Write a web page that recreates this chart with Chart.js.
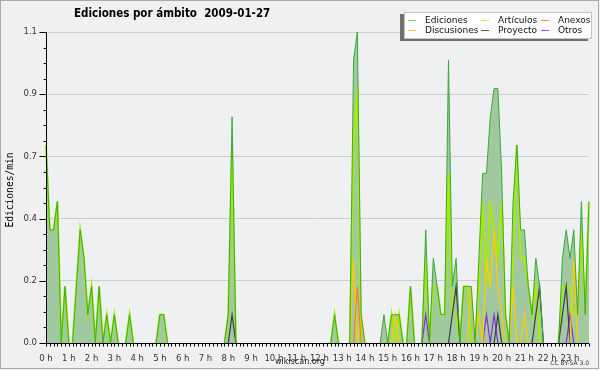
<!DOCTYPE html>
<html>
<head>
<meta charset="utf-8">
<script src="https://cdn.jsdelivr.net/npm/chart.js@4.4.1/dist/chart.umd.min.js"></script>
<style>
  html, body { margin: 0; padding: 0; background: #fff; }
  #wrap { position: relative; width: 600px; height: 370px; background: #f0f0f0; overflow: hidden; font-family: 'DejaVu Sans', sans-serif; }
  #chart { position: absolute; left: 0; top: 0; }
  #frame { position: absolute; left: 0; top: 0; width: 597px; height: 367px; border: 1px solid #a9a9a9; pointer-events: none; }
  #title { position: absolute; left: 74px; top: 6px; font-family: 'DejaVu Sans Condensed', 'DejaVu Sans', sans-serif;
           font-stretch: condensed; font-weight: bold; font-size: 11.5px; color: #000; white-space: pre; }
  #ytitle { position: absolute; left: -50.5px; top: 183px; width: 120px; height: 14px; line-height: 14px; text-align: center;
            font-family: 'DejaVu Sans Mono', monospace; font-size: 9.6px; color: #000; transform: rotate(-90deg); }
  #legend { position: absolute; left: 404px; top: 12px; width: 188px; height: 27px; box-sizing: border-box;
            background: #fdfdfd; border: 1px solid #c4c4c4; box-shadow: -4px 2px 0 #707070; }
  .item { position: absolute; height: 10px; font-size: 9px; line-height: 10px; color: #111; white-space: nowrap; }
  .item i { position: absolute; left: 0; top: 5px; width: 8px; height: 1px; }
  .item span { position: absolute; left: 17px; top: 0; }
  #site { position: absolute; left: 250px; width: 100px; top: 357px; text-align: center; font-size: 8px; color: #222; }
  #lic { position: absolute; right: 11px; top: 359px; font-size: 6px; color: #333; }
</style>
</head>
<body>
<div id="wrap">
  <canvas id="chart" width="600" height="370"></canvas>
  <div id="title">Ediciones por ámbito  2009-01-27</div>
  <div id="ytitle">Ediciones/min</div>
  <div id="legend"></div>
  <div id="site">wikiscan.org</div>
  <div id="lic">CC BY-SA 3.0</div>
  <div id="frame"></div>
</div>
<script>
// 10-minute buckets, 00:00 .. 23:50 (one row = 2 hours)
const ediciones = [
  0.7, 0.4, 0.4, 0.5, 0, 0.2, 0, 0, 0.2, 0.4, 0.3, 0.1,
  0.2, 0, 0.2, 0, 0.1, 0, 0.1, 0, 0, 0, 0.1, 0,
  0, 0, 0, 0, 0, 0, 0.1, 0.1, 0, 0, 0, 0,
  0, 0, 0, 0, 0, 0, 0, 0, 0, 0, 0, 0,
  0.1, 0.8, 0, 0, 0, 0, 0, 0, 0, 0, 0, 0,
  0, 0, 0, 0, 0, 0, 0, 0, 0, 0, 0, 0,
  0, 0, 0, 0, 0.1, 0, 0, 0, 0, 1.0, 1.1, 0.1,
  0, 0, 0, 0, 0, 0.1, 0, 0.1, 0.1, 0.1, 0, 0,
  0.2, 0, 0, 0, 0.4, 0, 0.3, 0.2, 0.1, 0.1, 1.0, 0.2,
  0.3, 0, 0.2, 0.2, 0.2, 0, 0.3, 0.6, 0.6, 0.8, 0.9, 0.9,
  0.6, 0.1, 0, 0.5, 0.7, 0.4, 0.4, 0.2, 0.1, 0.3, 0.2, 0,
  0, 0, 0, 0, 0.3, 0.4, 0.3, 0.4, 0.1, 0.5, 0.1, 0.5,
];
const articulos = [
  0.7, 0.4, 0.4, 0.5, 0, 0.2, 0, 0, 0.2, 0.4, 0.3, 0.1,
  0.2, 0, 0.2, 0, 0.1, 0, 0.1, 0, 0, 0, 0.1, 0,
  0, 0, 0, 0, 0, 0, 0.1, 0.1, 0, 0, 0, 0,
  0, 0, 0, 0, 0, 0, 0, 0, 0, 0, 0, 0,
  0.1, 0.7, 0, 0, 0, 0, 0, 0, 0, 0, 0, 0,
  0, 0, 0, 0, 0, 0, 0, 0, 0, 0, 0, 0,
  0, 0, 0, 0, 0.1, 0, 0, 0, 0, 0.7, 0.9, 0,
  0, 0, 0, 0, 0, 0, 0, 0.1, 0, 0.1, 0, 0,
  0.2, 0, 0, 0, 0.3, 0, 0.2, 0.2, 0.1, 0.1, 0.6, 0.1,
  0.1, 0, 0.2, 0.2, 0, 0, 0.2, 0.5, 0.2, 0.5, 0.4, 0.3,
  0.5, 0.1, 0, 0.3, 0.7, 0.3, 0.3, 0.2, 0.1, 0.2, 0, 0,
  0, 0, 0, 0, 0.2, 0.2, 0.2, 0.1, 0.1, 0.4, 0.1, 0.5,
];
const discusiones = [
  0, 0, 0, 0, 0, 0, 0, 0, 0, 0, 0, 0,
  0, 0, 0, 0, 0, 0, 0, 0, 0, 0, 0, 0,
  0, 0, 0, 0, 0, 0, 0, 0, 0, 0, 0, 0,
  0, 0, 0, 0, 0, 0, 0, 0, 0, 0, 0, 0,
  0, 0, 0, 0, 0, 0, 0, 0, 0, 0, 0, 0,
  0, 0, 0, 0, 0, 0, 0, 0, 0, 0, 0, 0,
  0, 0, 0, 0, 0, 0, 0, 0, 0, 0.3, 0, 0.1,
  0, 0, 0, 0, 0, 0, 0, 0, 0.1, 0, 0, 0,
  0, 0, 0, 0, 0, 0, 0, 0, 0, 0, 0, 0,
  0, 0, 0, 0, 0.2, 0, 0.1, 0, 0.3, 0.2, 0.4, 0.2,
  0.1, 0, 0, 0.2, 0, 0, 0.1, 0, 0, 0, 0, 0,
  0, 0, 0, 0, 0, 0, 0, 0.3, 0, 0, 0, 0,
];
const anexos = [
  0, 0, 0, 0, 0, 0, 0, 0, 0, 0, 0, 0,
  0, 0, 0, 0, 0, 0, 0, 0, 0, 0, 0, 0,
  0, 0, 0, 0, 0, 0, 0, 0, 0, 0, 0, 0,
  0, 0, 0, 0, 0, 0, 0, 0, 0, 0, 0, 0,
  0, 0, 0, 0, 0, 0, 0, 0, 0, 0, 0, 0,
  0, 0, 0, 0, 0, 0, 0, 0, 0, 0, 0, 0,
  0, 0, 0, 0, 0, 0, 0, 0, 0, 0, 0.2, 0,
  0, 0, 0, 0, 0, 0, 0, 0, 0, 0, 0, 0,
  0, 0, 0, 0, 0, 0, 0, 0, 0, 0, 0, 0,
  0, 0, 0, 0, 0, 0, 0, 0, 0, 0, 0, 0,
  0, 0, 0, 0, 0, 0, 0, 0, 0, 0, 0, 0,
  0, 0, 0, 0, 0, 0, 0, 0, 0, 0, 0, 0,
];
const proyecto = [
  0, 0, 0, 0, 0, 0, 0, 0, 0, 0, 0, 0,
  0, 0, 0, 0, 0, 0, 0, 0, 0, 0, 0, 0,
  0, 0, 0, 0, 0, 0, 0, 0, 0, 0, 0, 0,
  0, 0, 0, 0, 0, 0, 0, 0, 0, 0, 0, 0,
  0, 0.1, 0, 0, 0, 0, 0, 0, 0, 0, 0, 0,
  0, 0, 0, 0, 0, 0, 0, 0, 0, 0, 0, 0,
  0, 0, 0, 0, 0, 0, 0, 0, 0, 0, 0, 0,
  0, 0, 0, 0, 0, 0, 0, 0, 0, 0, 0, 0,
  0, 0, 0, 0, 0, 0, 0, 0, 0, 0, 0, 0.1,
  0.2, 0, 0, 0, 0, 0, 0, 0, 0, 0, 0, 0.1,
  0, 0, 0, 0, 0, 0, 0, 0, 0, 0.1, 0.2, 0,
  0, 0, 0, 0, 0.1, 0.2, 0, 0, 0, 0, 0, 0,
];
const otros = [
  0, 0, 0, 0, 0, 0, 0, 0, 0, 0, 0, 0,
  0, 0, 0, 0, 0, 0, 0, 0, 0, 0, 0, 0,
  0, 0, 0, 0, 0, 0, 0, 0, 0, 0, 0, 0,
  0, 0, 0, 0, 0, 0, 0, 0, 0, 0, 0, 0,
  0, 0, 0, 0, 0, 0, 0, 0, 0, 0, 0, 0,
  0, 0, 0, 0, 0, 0, 0, 0, 0, 0, 0, 0,
  0, 0, 0, 0, 0, 0, 0, 0, 0, 0, 0, 0,
  0, 0, 0, 0, 0, 0, 0, 0, 0, 0, 0, 0,
  0, 0, 0, 0, 0.1, 0, 0, 0, 0, 0, 0, 0,
  0, 0, 0, 0, 0, 0, 0, 0, 0.1, 0, 0.1, 0,
  0, 0, 0, 0, 0, 0, 0, 0, 0, 0, 0, 0,
  0, 0, 0, 0, 0, 0, 0.1, 0, 0, 0, 0, 0,
];

const hourLabels = ['0 h', '1 h', '2 h', '3 h', '4 h', '5 h', '6 h', '7 h', '8 h', '9 h', '10 h', '11 h',
  '12 h', '13 h', '14 h', '15 h', '16 h', '17 h', '18 h', '19 h', '20 h', '21 h', '22 h', '23 h'];
const yTickValues = [0, 0.22, 0.44, 0.66, 0.88, 1.1];
const yTickLabels = ['0.0', '0.2', '0.4', '0.7', '0.9', '1.1'];

const timeLabels = [];
for (let h = 0; h < 24; h++) {
  for (let m = 0; m < 60; m += 10) {
    timeLabels.push(String(h).padStart(2, '0') + ':' + String(m).padStart(2, '0'));
  }
}

const series = [
  { label: 'Ediciones', data: ediciones, color: '#3aa935', legend: '#86c986' },
  { label: 'Artículos', data: articulos, color: '#a6ec00', legend: '#c8ee55' },
  { label: 'Anexos', data: anexos, color: '#ff7a2a', legend: '#ff8a4a' },
  { label: 'Discusiones', data: discusiones, color: '#ffcc00', legend: '#ffcc33' },
  { label: 'Proyecto', data: proyecto, color: '#3c3c3c', legend: '#555555' },
  { label: 'Otros', data: otros, color: '#8a2be2', legend: '#9a4ae8' },
];

// hide line pieces that lie flat on the x axis
const hideFlat = (ctx) => (ctx.p0.parsed.y === 0 && ctx.p1.parsed.y === 0 ? 'rgba(0,0,0,0)' : undefined);

const datasets = series.map((s, i) => ({
  label: s.label,
  data: s.data,
  borderColor: s.color,
  borderWidth: i === 0 ? 1 : (i === 1 ? 2 : 1.2),
  fill: i === 0 ? 'origin' : false,
  backgroundColor: i === 0 ? '#a0c9a0' : s.color,
  order: i === 0 ? 0 : (i === 1 ? 6 : i),
  segment: { borderColor: hideFlat },
}));

const axesOnTop = {
  id: 'axesOnTop',
  beforeDraw(chart) {
    const { ctx, chartArea: a } = chart;
    ctx.save();
    ctx.fillStyle = '#eef0f2';
    ctx.fillRect(a.left, a.top, a.right - a.left, a.bottom - a.top);
    ctx.restore();
  },
  afterDatasetsDraw(chart) {
    const { ctx, chartArea: a, scales: { x, y } } = chart;
    const left = Math.round(a.left) + 0.5;
    const bottom = Math.round(a.bottom) + 0.5;
    ctx.save();
    ctx.strokeStyle = '#000';
    ctx.lineWidth = 1;
    ctx.beginPath();
    ctx.moveTo(left, a.top);
    ctx.lineTo(left, bottom);
    ctx.lineTo(a.right, bottom);
    for (let i = 0; i < timeLabels.length; i++) {
      const px = Math.round(x.getPixelForValue(i)) + 0.5;
      ctx.moveTo(px, bottom);
      ctx.lineTo(px, bottom + 3);
    }
    for (let k = 0; k <= 20; k++) {
      const py = Math.round(y.getPixelForValue(k * 0.055)) + 0.5;
      const len = k % 4 === 0 ? 7 : 3;
      ctx.moveTo(left - len, py);
      ctx.lineTo(left, py);
    }
    ctx.stroke();
    ctx.restore();
  },
};

const tickFont = { family: 'DejaVu Sans', size: 8.5 };

new Chart(document.getElementById('chart'), {
  type: 'line',
  data: { labels: timeLabels, datasets },
  options: {
    responsive: false,
    animation: false,
    layout: { padding: { top: 32, right: 11, left: 0, bottom: 0 } },
    elements: { point: { radius: 0 }, line: { tension: 0 } },
    plugins: {
      legend: { display: false },
      title: { display: false },
      tooltip: { enabled: false },
      filler: { drawTime: 'beforeDatasetsDraw' },
    },
    scales: {
      x: {
        type: 'category',
        offset: false,
        grid: { display: false },
        border: { display: false },
        afterBuildTicks: (s) => { s.ticks = s.ticks.filter((t) => t.value % 6 === 0); },
        afterFit: (s) => { s.height = 27; },
        ticks: { autoSkip: false, maxRotation: 0, padding: 3, color: '#333', font: tickFont,
          callback: (v) => hourLabels[v / 6] },
      },
      y: {
        min: 0,
        max: 1.1,
        afterBuildTicks: (s) => { s.ticks = yTickValues.map((v) => ({ value: v })); },
        afterFit: (s) => { s.width = 46; },
        grid: { color: '#cccccc', drawTicks: false },
        border: { display: false },
        ticks: { padding: 9, color: '#333', font: tickFont, callback: (v, i) => yTickLabels[i] },
      },
    },
  },
  plugins: [axesOnTop],
});

// legend box, 3 columns x 2 rows
const legendCols = [3, 76, 136];
const legendRows = [2, 12];
const legendEl = document.getElementById('legend');
series.forEach((s, n) => {
  const div = document.createElement('div');
  div.className = 'item';
  div.style.left = legendCols[n % 3] + 'px';
  div.style.top = legendRows[Math.floor(n / 3)] + 'px';
  div.innerHTML = '<i style="background:' + s.legend + '"></i><span>' + s.label + '</span>';
  legendEl.appendChild(div);
});
</script>
</body>
</html>
